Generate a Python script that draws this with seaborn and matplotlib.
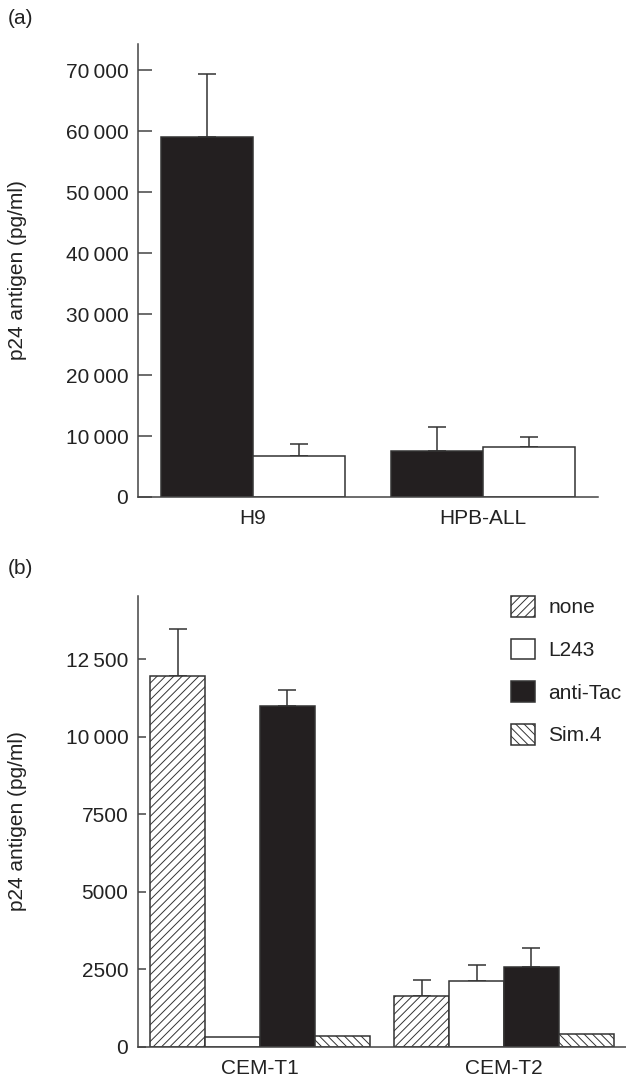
import numpy as np
import pandas as pd
import matplotlib
matplotlib.use('Agg')
import matplotlib.pyplot as plt
from matplotlib.patches import Patch
from matplotlib.ticker import FuncFormatter
import seaborn as sns

# panel (a)
cells_a = ['H9', 'HPB-ALL']
series_a = ['first', 'second']
vals_a_first = [59000, 7600]
vals_a_second = [6800, 8200]
err_a_first = [69400, 11450]
err_a_second = [8700, 9900]

# panel (b)
cells_b = ['CEM-T1', 'CEM-T2']
treat_b = ['none', 'L243', 'anti-Tac', 'Sim.4']
vals_b = {
    'none': [11950, 1630],
    'L243': [320, 2120],
    'anti-Tac': [10980, 2580],
    'Sim.4': [340, 430],
}
err_b = {
    'none': [13470, 2170],
    'L243': [np.nan, 2640],
    'anti-Tac': [11490, 3190],
    'Sim.4': [np.nan, np.nan],
}

BLACK = '#231f20'
EDGE = '#333333'
fills_a = [BLACK, 'white']
fills_b = {'none': 'white', 'L243': 'white', 'anti-Tac': BLACK, 'Sim.4': 'white'}
hatches_b = {'none': '////', 'L243': '', 'anti-Tac': '', 'Sim.4': '\\\\\\\\'}

sns.set_style('ticks')
plt.rcParams['font.family'] = ['Liberation Sans', 'DejaVu Sans']
plt.rcParams['hatch.linewidth'] = 0.7
plt.rcParams['hatch.color'] = EDGE
FS = 15


def thousands(v, pos):
    v = int(round(v))
    if v >= 10000:
        return f'{v:,}'.replace(',', '\u2009')
    return str(v)


def style_axes(ax, ticklen):
    sns.despine(ax=ax)
    for s in ['left', 'bottom']:
        ax.spines[s].set_color('#444444')
        ax.spines[s].set_linewidth(1.1)
    ax.tick_params(axis='y', direction='in', length=ticklen, width=1.1,
                   color='#444444', labelsize=FS, labelcolor='#222222', pad=7)
    ax.tick_params(axis='x', length=0, labelsize=FS, labelcolor='#222222', pad=9)
    ax.yaxis.set_major_formatter(FuncFormatter(thousands))
    ax.set_xlabel('')
    ax.set_ylabel('p24 antigen (pg/ml)', fontsize=FS, color='#222222')


def add_errors(ax, container, tops):
    xs, hs, es = [], [], []
    for bar, top in zip(container, tops):
        if np.isnan(top):
            continue
        xs.append(bar.get_x() + bar.get_width() / 2)
        hs.append(bar.get_height())
        es.append(top - bar.get_height())
    if xs:
        ax.errorbar(xs, hs, yerr=[np.zeros(len(es)), es], fmt='none',
                    ecolor=EDGE, elinewidth=1.1, capsize=6.5, capthick=1.1,
                    zorder=1)


fig = plt.figure(figsize=(6.26, 10.79), dpi=100)

# ---- (a)
ax1 = fig.add_axes([138 / 626, 582 / 1079, 460 / 626, 453 / 1079])
df_a = pd.DataFrame({
    'cell': cells_a * 2,
    'series': [series_a[0]] * 2 + [series_a[1]] * 2,
    'p24': vals_a_first + vals_a_second,
})
sns.barplot(data=df_a, x='cell', y='p24', hue='series', palette=fills_a,
            saturation=1, edgecolor=EDGE, linewidth=1.1, width=0.8,
            errorbar=None, legend=False, ax=ax1, zorder=2)
for cont, tops in zip(ax1.containers, [err_a_first, err_a_second]):
    add_errors(ax1, cont, tops)
ax1.set_ylim(0, 74300)
ax1.set_xlim(-0.5, 1.5)
ax1.set_yticks(np.arange(0, 70001, 10000))
style_axes(ax1, 10)
ax1.yaxis.set_label_coords(-0.241, 0.5)

# ---- (b)
ax2 = fig.add_axes([138 / 626, 32 / 1079, 488 / 626, 451 / 1079])
rows = []
for t in treat_b:
    for c, v in zip(cells_b, vals_b[t]):
        rows.append({'cell': c, 'treatment': t, 'p24': v})
df_b = pd.DataFrame(rows)
sns.barplot(data=df_b, x='cell', y='p24', hue='treatment', hue_order=treat_b,
            palette=fills_b, saturation=1, edgecolor=EDGE, linewidth=1.1,
            width=0.9, errorbar=None, legend=False, ax=ax2, zorder=2)
for cont, t in zip(ax2.containers, treat_b):
    for bar in cont:
        bar.set_hatch(hatches_b[t])
    add_errors(ax2, cont, err_b[t])
ax2.set_ylim(0, 14530)
ax2.set_xlim(-0.5, 1.5)
ax2.set_yticks(np.arange(0, 12501, 2500))
style_axes(ax2, 6)
ax2.yaxis.set_label_coords(-0.227, 0.5)

handles = [Patch(facecolor=fills_b[t], edgecolor=EDGE, hatch=hatches_b[t],
                 linewidth=1.1, label=t) for t in treat_b]
fig.legend(handles=handles, loc='upper left',
           bbox_to_anchor=(511 / 626, 1 - 596 / 1079), frameon=False,
           fontsize=FS, handlelength=1.15, handleheight=1.15,
           handletextpad=0.65, labelspacing=1.02, borderpad=0,
           borderaxespad=0, labelcolor='#222222')

fig.text(8 / 626, 1 - 18 / 1079, '(a)', fontsize=FS, color='#222222',
         va='center', ha='left')
fig.text(8 / 626, 1 - 568 / 1079, '(b)', fontsize=FS, color='#222222',
         va='center', ha='left')

fig.savefig('out.png', dpi=100)
